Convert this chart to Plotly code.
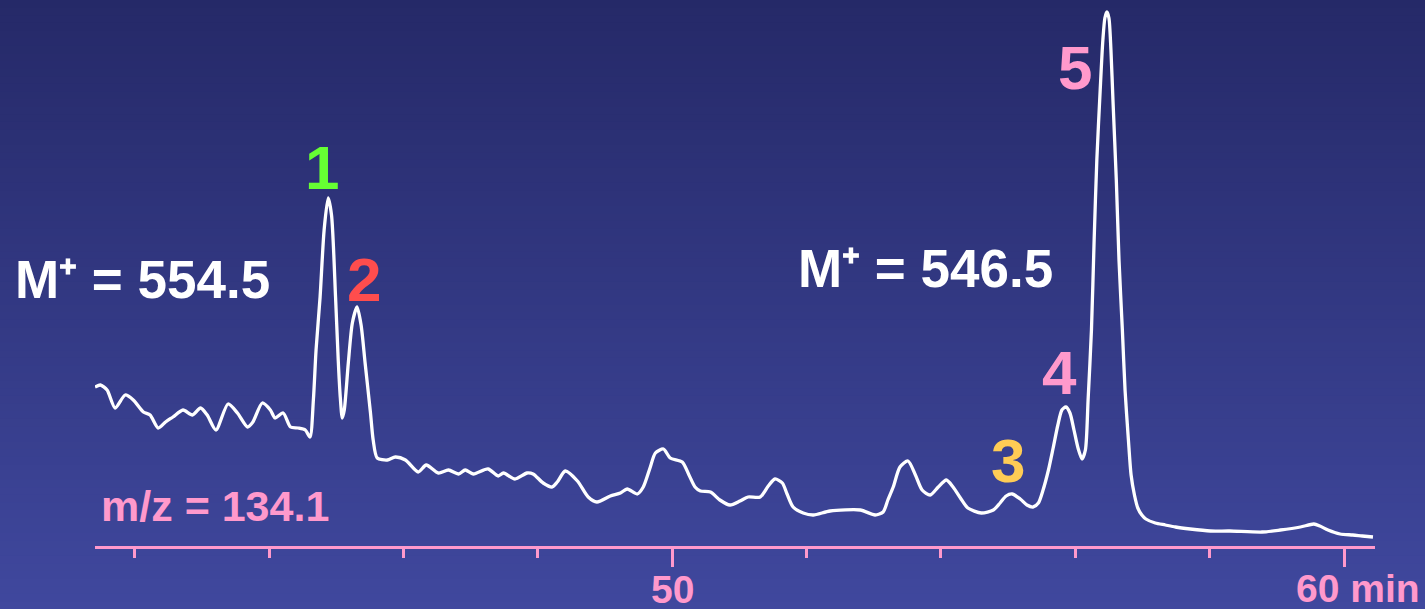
import plotly.graph_objects as go

# Retention time (min) and ion intensity (arbitrary units)
time_min = [41.41, 41.49, 41.59, 41.71, 41.86, 41.98, 42.13, 42.23, 42.35, 42.46, 42.57, 42.72,
            42.86, 42.98, 43.08, 43.21, 43.39, 43.53, 43.68, 43.76, 43.90, 44.02, 44.09, 44.21,
            44.32, 44.43, 44.54, 44.61, 44.66, 44.70, 44.76, 44.82, 44.88, 44.93, 44.99, 45.03,
            45.06, 45.09, 45.12, 45.18, 45.24, 45.31, 45.37, 45.43, 45.51, 45.55, 45.61, 45.76,
            45.88, 46.03, 46.22, 46.34, 46.52, 46.67, 46.82, 46.92, 47.04, 47.26, 47.41, 47.49,
            47.66, 47.84, 47.93, 48.08, 48.21, 48.29, 48.41, 48.59, 48.75, 48.88, 49.08, 49.23,
            49.33, 49.48, 49.57, 49.67, 49.75, 49.87, 49.97, 50.15, 50.25, 50.34, 50.42, 50.57,
            50.71, 50.86, 51.01, 51.13, 51.31, 51.43, 51.53, 51.64, 51.71, 51.80, 51.95, 52.10,
            52.35, 52.80, 53.02, 53.14, 53.21, 53.29, 53.39, 53.51, 53.62, 53.72, 53.84, 53.96,
            54.08, 54.18, 54.29, 54.40, 54.60, 54.78, 54.88, 54.97, 55.06, 55.18, 55.28, 55.37,
            55.45, 55.52, 55.60, 55.67, 55.74, 55.80, 55.86, 55.92, 55.98, 56.04, 56.10, 56.15,
            56.19, 56.24, 56.28, 56.32, 56.37, 56.41, 56.44, 56.47, 56.50, 56.53, 56.56, 56.61,
            56.65, 56.70, 56.74, 56.79, 56.83, 56.88, 56.93, 56.99, 57.05, 57.19, 57.34, 57.49,
            57.71, 58.01, 58.30, 58.78, 59.05, 59.35, 59.55, 59.64, 59.76, 59.94, 60.13, 60.27,
            60.43]
intensity = [159, 161, 156, 138, 151, 146, 134, 131, 118, 124, 129, 136,
             131, 138, 131, 116, 142, 133, 119, 124, 143, 136, 128, 133,
             119, 118, 116, 109, 146, 196, 249, 316, 348, 331, 249, 186,
             149, 128, 136, 183, 223, 239, 221, 183, 133, 106, 88, 86,
             89, 86, 74, 81, 73, 76, 72, 76, 72, 77, 70, 73,
             67, 73, 72, 63, 59, 64, 75, 65, 49, 44, 50, 53,
             57, 52, 59, 78, 93, 97, 88, 84, 71, 59, 55, 54,
             46, 41, 45, 49, 49, 60, 67, 63, 52, 39, 33, 31,
             35, 36, 31, 34, 46, 59, 79, 85, 71, 56, 51, 59,
             66, 59, 48, 38, 33, 36, 43, 50, 52, 47, 41, 39,
             43, 56, 76, 98, 121, 136, 139, 133, 116, 98, 87, 96,
             146, 216, 306, 386, 456, 506, 528, 534, 528, 496, 446, 366,
             286, 216, 156, 106, 71, 51, 38, 31, 27, 23, 21, 19,
             17, 15, 15, 14, 16, 19, 22, 20, 16, 12, 11, 10,
             9]

# Peak labels
peak_labels = ["1", "2", "3", "4", "5"]
peak_label_time = [44.79, 45.42, 55.00, 55.77, 56.00]
peak_label_int = [379, 267, 86, 174, 479]
peak_label_colors = ["#66ff33", "#ff4d4d", "#ffcc55", "#ff99cc", "#ff99cc"]

mass_labels = ["M⁺ = 554.5", "M⁺ = 546.5"]
mass_label_time = [42.12, 53.77]
mass_label_int = [267, 278]

x_range = [41.41, 60.46]
tick_label_vals = [50, 60]
tick_label_text = ["50", "60 min"]

PINK = "#ff99cc"
FONT = "Liberation Sans, Arial, Helvetica, sans-serif"

fig = go.Figure()
fig.add_trace(go.Scatter(x=time_min, y=intensity, mode="lines",
                         line=dict(color="white", width=3.3, shape="spline", smoothing=0.7),
                         hoverinfo="skip", showlegend=False))

# Background vertical gradient (drawn as thin strips covering the whole page)
W, H = 1425, 609
ml, mr, mt, mb = 95, 50, 0, 63
pw, ph = W - ml - mr, H - mt - mb
top_rgb = (37, 41, 104)
bot_rgb = (64, 72, 158)
N = 80
shapes = []
for i in range(N):
    f = (i + 0.5) / N
    r = round(top_rgb[0] + (bot_rgb[0] - top_rgb[0]) * f)
    g = round(top_rgb[1] + (bot_rgb[1] - top_rgb[1]) * f)
    b = round(top_rgb[2] + (bot_rgb[2] - top_rgb[2]) * f)
    py0 = H * i / N
    py1 = H * (i + 1) / N + 1
    shapes.append(dict(type="rect", xref="paper", yref="paper", layer="below",
                       x0=-ml / pw - 0.01, x1=(W - ml) / pw + 0.01,
                       y0=(ph - py1 + mt) / ph, y1=(ph - py0 + mt) / ph,
                       line=dict(width=0), fillcolor=f"rgb({r},{g},{b})"))

annotations = []
for t, x, y, c in zip(peak_labels, peak_label_time, peak_label_int, peak_label_colors):
    annotations.append(dict(x=x, y=y, xref="x", yref="y", text=f"<b>{t}</b>",
                            showarrow=False, xanchor="center", yanchor="middle",
                            font=dict(family=FONT, size=62, color=c)))
for t, x, y in zip(mass_labels, mass_label_time, mass_label_int):
    annotations.append(dict(x=x, y=y, xref="x", yref="y", text=f"<b>{t}</b>",
                            showarrow=False, xanchor="center", yanchor="middle",
                            font=dict(family=FONT, size=53, color="white")))
annotations.append(dict(x=43.20, y=40, xref="x", yref="y", text="<b>m/z = 134.1</b>",
                        showarrow=False, xanchor="center", yanchor="middle",
                        font=dict(family=FONT, size=43, color=PINK)))
annotations.append(dict(x=tick_label_vals[0], y=-43 / 546, xref="x", yref="paper",
                        text=f"<b>{tick_label_text[0]}</b>", showarrow=False,
                        xanchor="center", yanchor="middle", height=34, valign="middle",
                        font=dict(family=FONT, size=39, color=PINK)))
annotations.append(dict(x=tick_label_vals[1] - 0.75, y=-42 / 546, xref="x", yref="paper",
                        text=f"<b>{tick_label_text[1]}</b>", showarrow=False,
                        xanchor="left", yanchor="middle", height=34, valign="middle",
                        font=dict(family=FONT, size=39, color=PINK)))

fig.update_layout(
    width=W, height=H,
    margin=dict(l=ml, r=mr, t=mt, b=mb),
    paper_bgcolor="rgb(50,56,130)",
    plot_bgcolor="rgba(0,0,0,0)",
    shapes=shapes,
    annotations=annotations,
    xaxis=dict(range=x_range, showgrid=False, zeroline=False,
               showline=True, linecolor=PINK, linewidth=3,
               ticks="outside", tickcolor=PINK, tickwidth=3, ticklen=18,
               tick0=50, dtick=10, showticklabels=False,
               minor=dict(ticks="outside", tick0=50, dtick=2, ticklen=9,
                          tickcolor=PINK, tickwidth=3, showgrid=False)),
    yaxis=dict(range=[0, 546], visible=False, showgrid=False, zeroline=False),
)

fig.write_html("out.html", config={"displayModeBar": False},
               post_script="document.body.style.margin='0';document.body.style.overflow='hidden';")
